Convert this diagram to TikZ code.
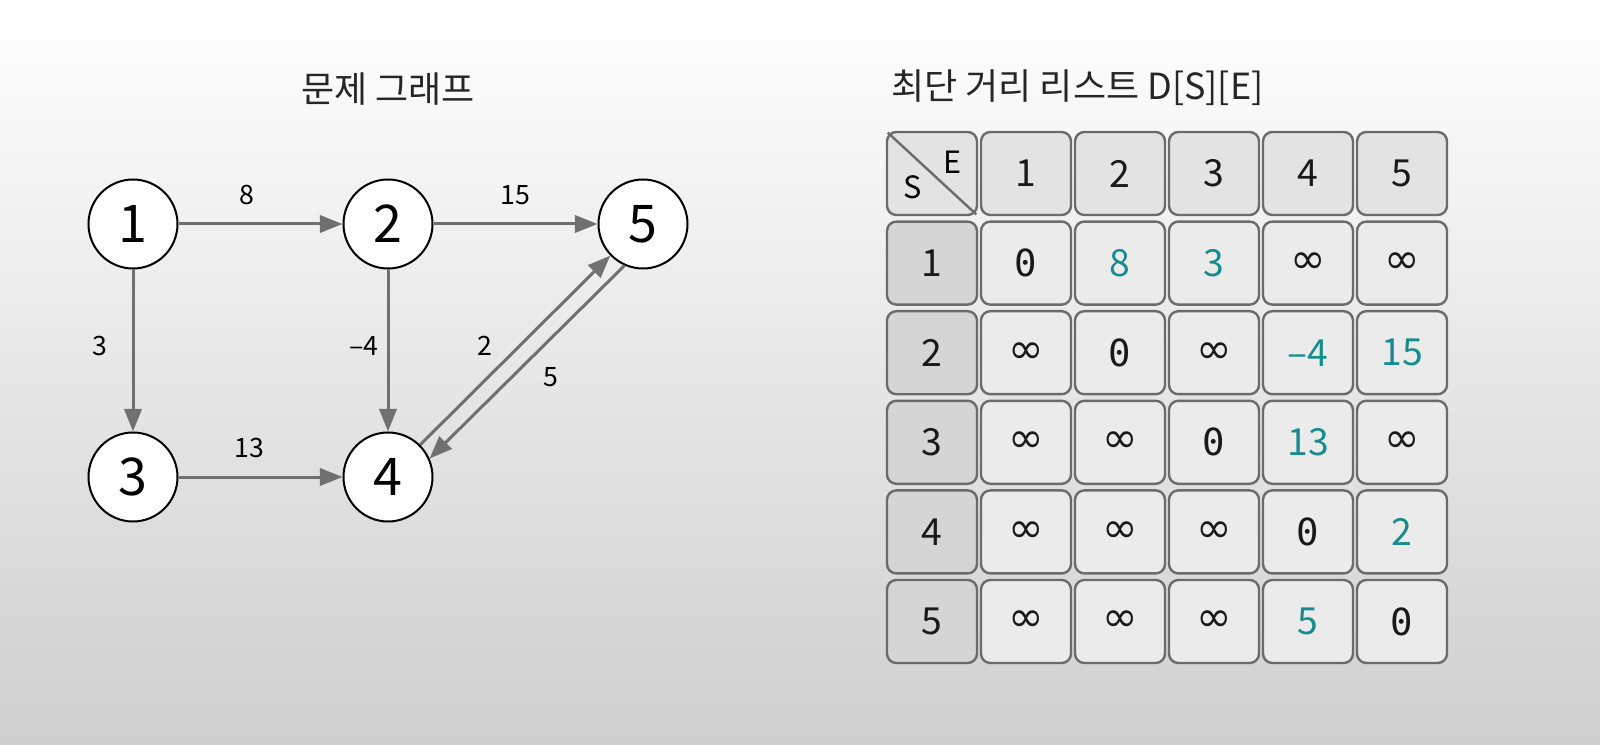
\documentclass[tikz,border=0pt]{standalone}
\usepackage{fontspec}
\setmainfont{Noto Sans CJK KR}
\newfontfamily\monofont{DejaVu Sans Mono}
\newfontfamily\symfont{DejaVu Sans}
\usetikzlibrary{arrows.meta}

\definecolor{edgegray}{HTML}{707070}
\definecolor{cellline}{HTML}{6B6B6B}
\definecolor{distteal}{HTML}{178C8E}
\definecolor{bgbottom}{HTML}{CFCFCF}
\definecolor{hfill}{HTML}{E3E3E3}
\definecolor{rfill}{HTML}{D5D5D5}
\definecolor{dfill}{HTML}{EBEBEB}

\newcommand{\dinf}{{\symfont\fontsize{32}{32}\selectfont ∞}}
\newcommand{\dzero}{{\monofont 0}}
\newcommand{\dval}[1]{\textcolor{distteal}{#1}}

\begin{document}
\begin{tikzpicture}[x=0.75pt, y=-0.75pt, node distance=191.25pt,
  >={Triangle[length=17pt,width=13pt]},
  main/.style = {draw, circle, line width=1.5pt, fill=white, minimum size=66.75pt, inner sep=0pt, font=\fontsize{39}{39}\selectfont},
  link/.style = {->, draw=edgegray, fill=edgegray, line width=2.25pt},
  wt/.style = {font=\fontsize{20}{20}\selectfont, inner sep=0pt, fill=none},
  cell/.style = {draw=cellline, line width=1.8pt, rounded corners=7pt, minimum width=67.5pt, minimum height=62.25pt, inner sep=0pt, font=\fontsize{28}{28}\selectfont, text=black!90},
  hcell/.style = {cell, fill=hfill},
  rcell/.style = {cell, fill=rfill},
  dcell/.style = {cell, fill=dfill},
  ttl/.style = {font=\fontsize{27}{30}\selectfont, text=black!85}]
\useasboundingbox (0,0) rectangle (1600,745);
\shade[top color=white, bottom color=bgbottom] (0,0) rectangle (1600,745);

% graph
\node[ttl] (gtitle) at (388,89) {문제 그래프};
\node[main] (1) at (133,224) {1};
\node[main] (2) [right of=1] {2};
\node[main] (5) [right of=2] {5};
\node[main] (3) [node distance=189.75pt, below of=1] {3};
\node[main] (4) [right of=3] {4};
\draw[link] (1) -- node[wt, pos=0.42, above=13pt] {8} (2);
\draw[link] (2) -- node[wt, above=13pt] {15} (5);
\draw[link] (1) -- node[wt, pos=0.47, left=18pt] {3} (3);
\draw[link] (2) -- node[wt, pos=0.47, left=6pt] {–4} (4);
\draw[link] (3) -- node[wt, pos=0.43, above=13pt] {13} (4);
\draw[link] (4.45) -- node[wt, left=16pt, yshift=3pt] {2} (5.224);
\draw[link] (5.246) -- node[wt, right=11pt, yshift=-11pt] {5} (4.24);

% distance table
\node[ttl, anchor=west, inner sep=0pt] (ttitle) at (891,88) {최단 거리 리스트 D[S][E]};
\node[hcell] (c0) at (932,173.5) {};
\draw[cellline, line width=1.8pt, shorten <=2pt, shorten >=2pt] (c0.north west) -- (c0.south east);
\node[font=\fontsize{23}{23}\selectfont, inner sep=0pt] (lblE) at (953,162) {E};
\node[font=\fontsize{23}{23}\selectfont, inner sep=0pt] (lblS) at (913,187) {S};
\foreach \j in {1,...,5} {
  \node[hcell] (h\j) at ({932+94*\j},173.5) {\j};
  \node[rcell] (r\j) at (932,{173.5+89.6*\j}) {\j};
}
\foreach \v [count=\j] in {\dzero,\dval{8},\dval{3},\dinf,\dinf}
  \node[dcell] (d1\j) at ({932+94*\j},263.1) {\v};
\foreach \v [count=\j] in {\dinf,\dzero,\dinf,\dval{–4},\dval{15}}
  \node[dcell] (d2\j) at ({932+94*\j},352.7) {\v};
\foreach \v [count=\j] in {\dinf,\dinf,\dzero,\dval{13},\dinf}
  \node[dcell] (d3\j) at ({932+94*\j},442.3) {\v};
\foreach \v [count=\j] in {\dinf,\dinf,\dinf,\dzero,\dval{2}}
  \node[dcell] (d4\j) at ({932+94*\j},531.9) {\v};
\foreach \v [count=\j] in {\dinf,\dinf,\dinf,\dval{5},\dzero}
  \node[dcell] (d5\j) at ({932+94*\j},621.5) {\v};
\end{tikzpicture}
\end{document}
